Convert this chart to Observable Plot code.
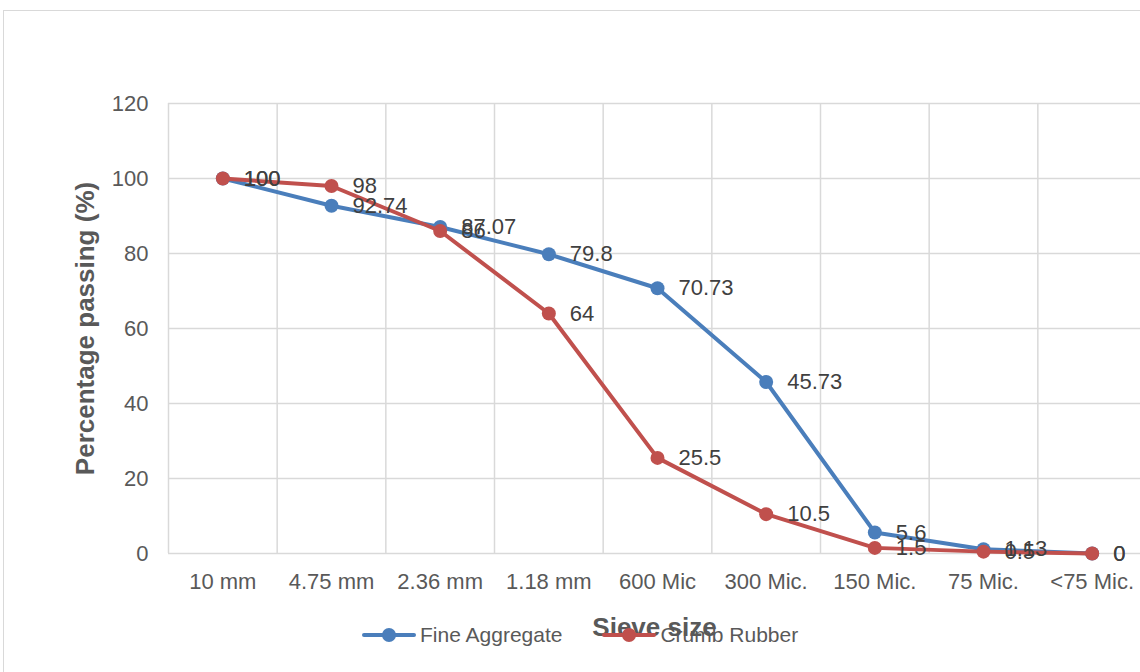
<!DOCTYPE html>
<html>
<head>
<meta charset="utf-8">
<script src="https://cdn.jsdelivr.net/npm/d3@7"></script>
<script src="https://cdn.jsdelivr.net/npm/@observablehq/plot@0.6"></script>
<style>
  html, body { margin: 0; padding: 0; background: #fff; }
  #wrap { position: relative; width: 1140px; height: 672px; overflow: hidden; font-family: "Liberation Sans", sans-serif; }
  #border { position: absolute; left: 3px; top: 10px; width: 1150px; height: 700px; border: 1.5px solid #d9d9d9; box-sizing: border-box; }
  #chart { position: absolute; left: 0; top: 0; }
  #chart svg { font-family: "Liberation Sans", sans-serif; }
  g[aria-label="y-axis label"] text, g[aria-label="x-axis label"] text { font-weight: bold; font-size: 26px; fill: #595959; }
  #legend { position: absolute; top: 623px; left: 362px; display: flex; align-items: center; font-size: 21px; color: #595959; }
  .item { display: flex; align-items: center; }
  .sw { position: relative; width: 54px; height: 14px; margin-right: 4px; }
  .sw .ln { position: absolute; left: 0; right: 0; top: 5px; height: 4px; border-radius: 2px; }
  .sw .dt { position: absolute; left: 20px; top: 0; width: 14px; height: 14px; border-radius: 50%; }
</style>
</head>
<body>
<div id="wrap">
  <div id="border"></div>
  <div id="chart"></div>
  <div id="legend"></div>
</div>
<script>
const categories = ["10 mm", "4.75 mm", "2.36 mm", "1.18 mm", "600 Mic", "300 Mic.", "150 Mic.", "75 Mic.", "<75 Mic."];
const fineAggregate = [100, 92.74, 87.07, 79.8, 70.73, 45.73, 5.6, 1.13, 0];
const crumbRubber = [100, 98, 86, 64, 25.5, 10.5, 1.5, 0.5, 0];
const yTicks = [0, 20, 40, 60, 80, 100, 120];
const seriesNames = ["Fine Aggregate", "Crumb Rubber"];
const seriesColors = ["#4a7ebb", "#c0504d"];

const fineRows = categories.map((c, i) => ({series: seriesNames[0], idx: i + 0.5, value: fineAggregate[i]}));
const rubberRows = categories.map((c, i) => ({series: seriesNames[1], idx: i + 0.5, value: crumbRubber[i]}));
const boundaries = d3.range(categories.length + 1);

const plot = Plot.plot({
  width: 1140,
  height: 672,
  marginLeft: 168,
  marginRight: 0,
  marginTop: 103,
  marginBottom: 119,
  style: {background: "transparent", overflow: "visible"},
  x: {type: "linear", domain: [0, categories.length], range: [168, 1146]},
  y: {domain: [0, 120], range: [553, 103]},
  marks: [
    Plot.ruleY(yTicks, {y: d => d, stroke: "#d9d9d9", strokeWidth: 1.5}),
    Plot.ruleX(boundaries, {x: d => d, y1: 0, y2: 120, stroke: "#d9d9d9", strokeWidth: 1.5}),
    Plot.axisY({
      ticks: yTicks, tickSize: 0, tickPadding: 20, fontSize: 22, fill: "#595959",
      label: "Percentage passing (%)", labelAnchor: "center", labelArrow: "none", labelOffset: 93
    }),
    Plot.axisX({
      ticks: categories.map((c, i) => i + 0.5),
      tickFormat: (d) => categories[Math.round(d - 0.5)],
      tickSize: 0, tickPadding: 20, fontSize: 22, fill: "#595959",
      label: "Sieve size", labelAnchor: "center", labelArrow: "none", labelOffset: 82
    }),
    Plot.line(fineRows, {x: "idx", y: "value", stroke: seriesColors[0], strokeWidth: 4}),
    Plot.dot(fineRows, {x: "idx", y: "value", r: 7, fill: seriesColors[0]}),
    Plot.line(rubberRows, {x: "idx", y: "value", stroke: seriesColors[1], strokeWidth: 4}),
    Plot.dot(rubberRows, {x: "idx", y: "value", r: 7, fill: seriesColors[1]}),
    Plot.text(fineRows, {x: "idx", y: "value", text: d => String(d.value), textAnchor: "start", dx: 21, fontSize: 22, fill: "#404040"}),
    Plot.text(rubberRows, {x: "idx", y: "value", text: d => String(d.value), textAnchor: "start", dx: 21, fontSize: 22, fill: "#404040"})
  ]
});
document.getElementById("chart").appendChild(plot);

const legend = document.getElementById("legend");
seriesNames.forEach((name, i) => {
  const item = document.createElement("div");
  item.className = "item";
  item.style.marginRight = i === 0 ? "40px" : "0";
  item.innerHTML = `<div class="sw"><div class="ln" style="background:${seriesColors[i]}"></div><div class="dt" style="background:${seriesColors[i]}"></div></div><span>${name}</span>`;
  legend.appendChild(item);
});
</script>
</body>
</html>
